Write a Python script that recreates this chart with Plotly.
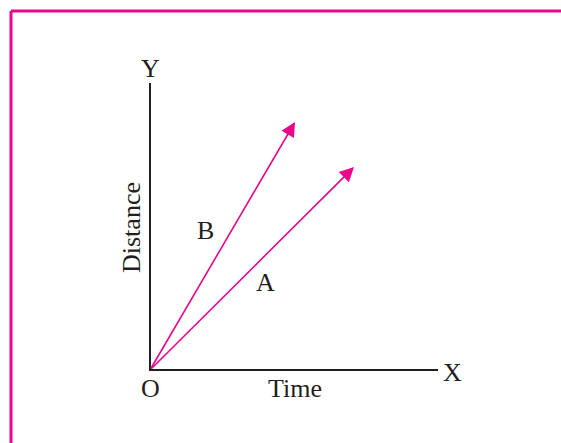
import plotly.graph_objects as go

# origin O at (0, 0), arbitrary distance/time units
axis_x = [0, 0, 288]
axis_y = [287, 0, 0]

lines = ["B", "A"]
end_time = [145, 204]
end_dist = [248, 203]
label_time = [55, 115]
label_dist = [140, 88]

INK = "#231f20"
PINK = "#e8078b"
FONT = "Liberation Serif"

fig = go.Figure()

# axes
fig.add_trace(
    go.Scatter(
        x=axis_x,
        y=axis_y,
        mode="lines",
        line=dict(color=INK, width=2),
        hoverinfo="skip",
        showlegend=False,
    )
)

# arrows for A and B
for name, t, d, lt, ld in zip(lines, end_time, end_dist, label_time, label_dist):
    fig.add_annotation(
        x=t, y=d, ax=0, ay=0,
        xref="x", yref="y", axref="x", ayref="y",
        text="", showarrow=True,
        arrowhead=2, arrowsize=1.8, arrowwidth=1.6,
        arrowcolor=PINK, standoff=0, startstandoff=0,
    )
    fig.add_annotation(
        x=lt, y=ld, text=name, showarrow=False,
        font=dict(family=FONT, size=26, color=INK),
    )

# axis labels
labels = [
    ("Y", 0, 302, 0),
    ("X", 302, -2, 0),
    ("O", 0, -18, 0),
    ("Time", 145, -18, 0),
    ("Distance", -19, 142, -90),
]
for txt, lx, ly, rot in labels:
    fig.add_annotation(
        x=lx, y=ly, text=txt, showarrow=False, textangle=rot,
        font=dict(family=FONT, size=26, color=INK),
    )

# magenta frame
fig.add_shape(type="line", xref="paper", yref="paper",
              x0=11 / 561, x1=1, y0=1 - 11 / 443, y1=1 - 11 / 443,
              line=dict(color=PINK, width=3))
fig.add_shape(type="line", xref="paper", yref="paper",
              x0=11 / 561, x1=11 / 561, y0=0, y1=1 - 11 / 443,
              line=dict(color=PINK, width=3))

fig.update_xaxes(range=[-150, 411], visible=False, fixedrange=True)
fig.update_yaxes(range=[-73, 370], visible=False, fixedrange=True)

fig.update_layout(
    width=561,
    height=443,
    margin=dict(l=0, r=0, t=0, b=0),
    plot_bgcolor="white",
    paper_bgcolor="white",
    showlegend=False,
)

fig.write_html(
    "out.html",
    config={"displayModeBar": False},
    post_script="document.body.style.margin='0';document.body.style.overflow='hidden';",
)
